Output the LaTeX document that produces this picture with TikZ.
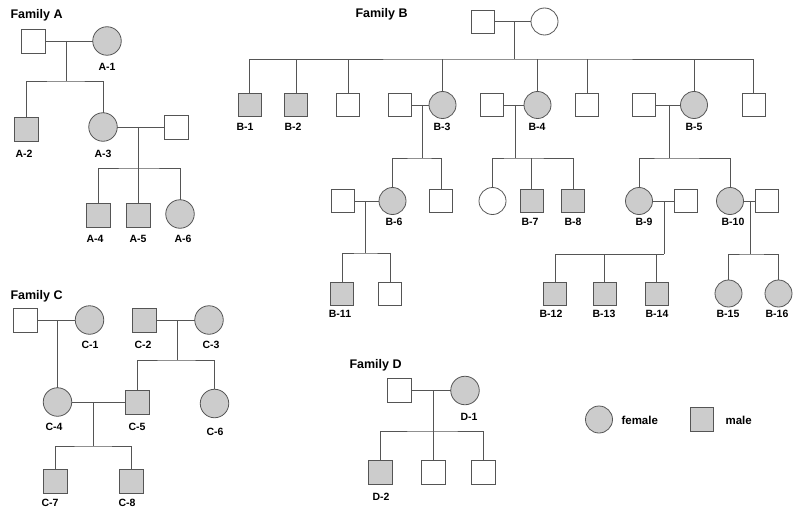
\documentclass[tikz,border=0pt]{standalone}
\usepackage{fontspec}
\setmainfont{Liberation Sans}
\usetikzlibrary{calc}
\definecolor{symfill}{HTML}{CCCCCC}
\definecolor{linecol}{HTML}{555555}
\tikzset{
  sym/.style={draw=linecol,line width=0.8pt,inner sep=0pt,outer sep=0pt},
  msq/.style={sym,rectangle,minimum size=24pt},
  fci/.style={sym,circle,minimum size=28.5pt},
  aff/.style={fill=symfill},
  rel/.style={draw=linecol,line width=0.8pt},
  lab/.style={font=\fontsize{10.5}{12}\selectfont\bfseries},
  fam/.style={font=\fontsize{12.5}{14}\selectfont\bfseries,anchor=base west},
  key/.style={font=\fontsize{11.5}{13}\selectfont\bfseries,anchor=west}
}
\begin{document}
\begin{tikzpicture}[x=1pt,y=-1pt]
\path[use as bounding box,fill=white] (0,0) rectangle (800,516);
% Family A
\node[fam] (tA) at (7,19) {Family A};
\node[msq] (a0) at (33.5,41) {};  \node[fci,aff] (a1) at (107,41) {};
\coordinate (am) at (66.7,41);  \coordinate (as) at (66.7,81);
\node[msq,aff] (a2) at (26.5,129) {};  \node[fci,aff] (a3) at (103,127) {};
\node[msq] (a3p) at (176,127) {};
\coordinate (a3m) at (138.5,127);  \coordinate (a3s) at (138.5,168);
\node[msq,aff] (a4) at (98,215) {};  \node[msq,aff] (a5) at (138.5,215) {};
\node[fci,aff] (a6) at (180,214) {};
\draw[rel] (a0) -- (a1);  \draw[rel] (am) -- (as);
\draw[rel] (a2) |- (as) -| (a3);
\draw[rel] (a3) -- (a3p);  \draw[rel] (a3m) -- (a5);
\draw[rel] (a4) |- (a3s) -| (a6);
\node[lab] (la1) at (107,67) {A-1};  \node[lab] (la2) at (24,154) {A-2};
\node[lab] (la3) at (103,154) {A-3};
\node[lab] (la4) at (95,239) {A-4};  \node[lab] (la5) at (138,239) {A-5};
\node[lab] (la6) at (183,239) {A-6};
% Family B
\begin{scope}[msq/.append style={minimum size=23pt},fci/.append style={minimum size=27pt}]
\node[fam] (tB) at (352,17.5) {Family B};
\node[msq] (b0) at (483,21.5) {};  \node[fci] (b00) at (544.5,21.5) {};
\coordinate (bm) at (514,21.5);  \coordinate (bs) at (514,59);
\node[msq,aff] (b1) at (249.5,105) {};  \node[msq,aff] (b2) at (296,105) {};
\node[msq] (b20) at (348,105) {};
\node[msq] (b3p) at (400,105) {};  \node[fci,aff] (b3) at (442.5,105) {};
\node[msq] (b4p) at (492,105) {};  \node[fci,aff] (b4) at (537.5,105) {};
\node[msq] (b21) at (587,105) {};
\node[msq] (b5p) at (643.5,105) {};  \node[fci,aff] (b5) at (694,105) {};
\node[msq] (b22) at (753.5,105) {};
\draw[rel] (b0) -- (b00);  \draw[rel] (bm) -- (bs);
\draw[rel] (b1) |- (bs) -| (b22);
\draw[rel] (b2) -- (b2 |- bs);  \draw[rel] (b20) -- (b20 |- bs);
\draw[rel] (b3) -- (b3 |- bs);  \draw[rel] (b4) -- (b4 |- bs);
\draw[rel] (b21) -- (b21 |- bs);  \draw[rel] (b5) -- (b5 |- bs);
\coordinate (b3m) at (422,105);  \coordinate (b3s) at (422,158);
\coordinate (b4m) at (515,105);  \coordinate (b4s) at (515,158);
\coordinate (b5m) at (669,105);  \coordinate (b5s) at (669,158);
\draw[rel] (b3p) -- (b3);  \draw[rel] (b3m) -- (b3s);
\draw[rel] (b4p) -- (b4);  \draw[rel] (b4m) -- (b4s);
\draw[rel] (b5p) -- (b5);  \draw[rel] (b5m) -- (b5s);
\node[msq] (b6p) at (343,201) {};  \node[fci,aff] (b6) at (392.5,201) {};
\node[msq] (b30) at (441,201) {};
\node[fci] (b40) at (492.5,201) {};  \node[msq,aff] (b7) at (531.5,201) {};
\node[msq,aff] (b8) at (573,201) {};
\node[fci,aff] (b9) at (639,201) {};  \node[msq] (b9p) at (685.5,201) {};
\node[fci,aff] (b10) at (730,201) {};  \node[msq] (b10p) at (766.5,201) {};
\draw[rel] (b6) |- (b3s) -| (b30);
\draw[rel] (b40) |- (b4s) -| (b8);  \draw[rel] (b7) -- (b7 |- b4s);
\draw[rel] (b9) |- (b5s) -| (b10);
\coordinate (b6m) at (365,201);  \coordinate (b6s) at (365,253);
\coordinate (b9m) at (664,201);  \coordinate (b9s) at (664,254);
\coordinate (b10m) at (750,201);  \coordinate (b10s) at (750,254);
\draw[rel] (b6p) -- (b6);  \draw[rel] (b6m) -- (b6s);
\draw[rel] (b9) -- (b9p);  \draw[rel] (b9m) -- (b9s);
\draw[rel] (b10) -- (b10p);  \draw[rel] (b10m) -- (b10s);
\node[msq,aff] (b11) at (342,293.5) {};  \node[msq] (b60) at (390,293.5) {};
\node[msq,aff] (b12) at (555,293.5) {};  \node[msq,aff] (b13) at (604.5,293.5) {};
\node[msq,aff] (b14) at (656.5,293.5) {};
\node[fci,aff] (b15) at (728.5,293.5) {};  \node[fci,aff] (b16) at (778.5,293.5) {};
\draw[rel] (b11) |- (b6s) -| (b60);
\draw[rel] (b12) |- (b9s);
\draw[rel] (b13) -- (b13 |- b9s);  \draw[rel] (b14) -- (b14 |- b9s);
\draw[rel] (b15) |- (b10s) -| (b16);
\end{scope}
\node[lab] (lb1) at (245,127) {B-1};  \node[lab] (lb2) at (293,127) {B-2};
\node[lab] (lb3) at (442,127) {B-3};  \node[lab] (lb4) at (537,127) {B-4};
\node[lab] (lb5) at (694,127) {B-5};
\node[lab] (lb6) at (394,222) {B-6};  \node[lab] (lb7) at (530,222) {B-7};
\node[lab] (lb8) at (573,222) {B-8};  \node[lab] (lb9) at (644,222) {B-9};
\node[lab] (lb10) at (733,222) {B-10};
\node[lab] (lb11) at (340,314) {B-11};  \node[lab] (lb12) at (551,314) {B-12};
\node[lab] (lb13) at (604,314) {B-13};  \node[lab] (lb14) at (657,314) {B-14};
\node[lab] (lb15) at (728,314) {B-15};  \node[lab] (lb16) at (777,314) {B-16};
% Family C
\node[fam] (tC) at (7,299) {Family C};
\node[msq] (c0) at (25,320) {};  \node[fci,aff] (c1) at (89.5,320) {};
\node[msq,aff] (c2) at (144.5,320) {};  \node[fci,aff] (c3) at (209,320) {};
\coordinate (cm) at (57.5,320);
\coordinate (c2m) at (177,320);  \coordinate (c2s) at (177,360);
\node[fci,aff] (c4) at (57.5,402) {};  \node[msq,aff] (c5) at (137,402) {};
\node[fci,aff] (c6) at (214.5,403.5) {};
\coordinate (c4m) at (93,402);  \coordinate (c4s) at (93,446);
\node[msq,aff] (c7) at (55,481) {};  \node[msq,aff] (c8) at (131,481) {};
\draw[rel] (c0) -- (c1);  \draw[rel] (cm) -- (c4);
\draw[rel] (c2) -- (c3);  \draw[rel] (c2m) -- (c2s);
\draw[rel] (c5) |- (c2s) -| (c6);
\draw[rel] (c4) -- (c5);  \draw[rel] (c4m) -- (c4s);
\draw[rel] (c7) |- (c4s) -| (c8);
\node[lab] (lc1) at (90,345) {C-1};  \node[lab] (lc2) at (143,345) {C-2};
\node[lab] (lc3) at (211,345) {C-3};
\node[lab] (lc4) at (54,427) {C-4};  \node[lab] (lc5) at (137,427) {C-5};
\node[lab] (lc6) at (215,432) {C-6};
\node[lab] (lc7) at (50,503) {C-7};  \node[lab] (lc8) at (127,503) {C-8};
% Family D
\node[fam] (tD) at (346,368) {Family D};
\node[msq] (d0) at (399.5,390.5) {};  \node[fci,aff] (d1) at (465,390.5) {};
\coordinate (dm) at (433,390.5);  \coordinate (ds) at (433,431);
\node[msq,aff] (d2) at (380.5,472.5) {};  \node[msq] (d20) at (433,472.5) {};
\node[msq] (d21) at (483.5,472.5) {};
\draw[rel] (d0) -- (d1);  \draw[rel] (dm) -- (d20);
\draw[rel] (d2) |- (ds) -| (d21);
\node[lab] (ld1) at (469,417) {D-1};  \node[lab] (ld2) at (381,497) {D-2};
% key
\node[fci,aff,minimum size=27pt] (kf) at (599,419.5) {};
\node[key] (kft) at (618,420) {female};
\node[msq,aff,minimum size=23.5pt] (km) at (702,419.5) {};
\node[key] (kmt) at (722,420) {male};
\end{tikzpicture}
\end{document}
